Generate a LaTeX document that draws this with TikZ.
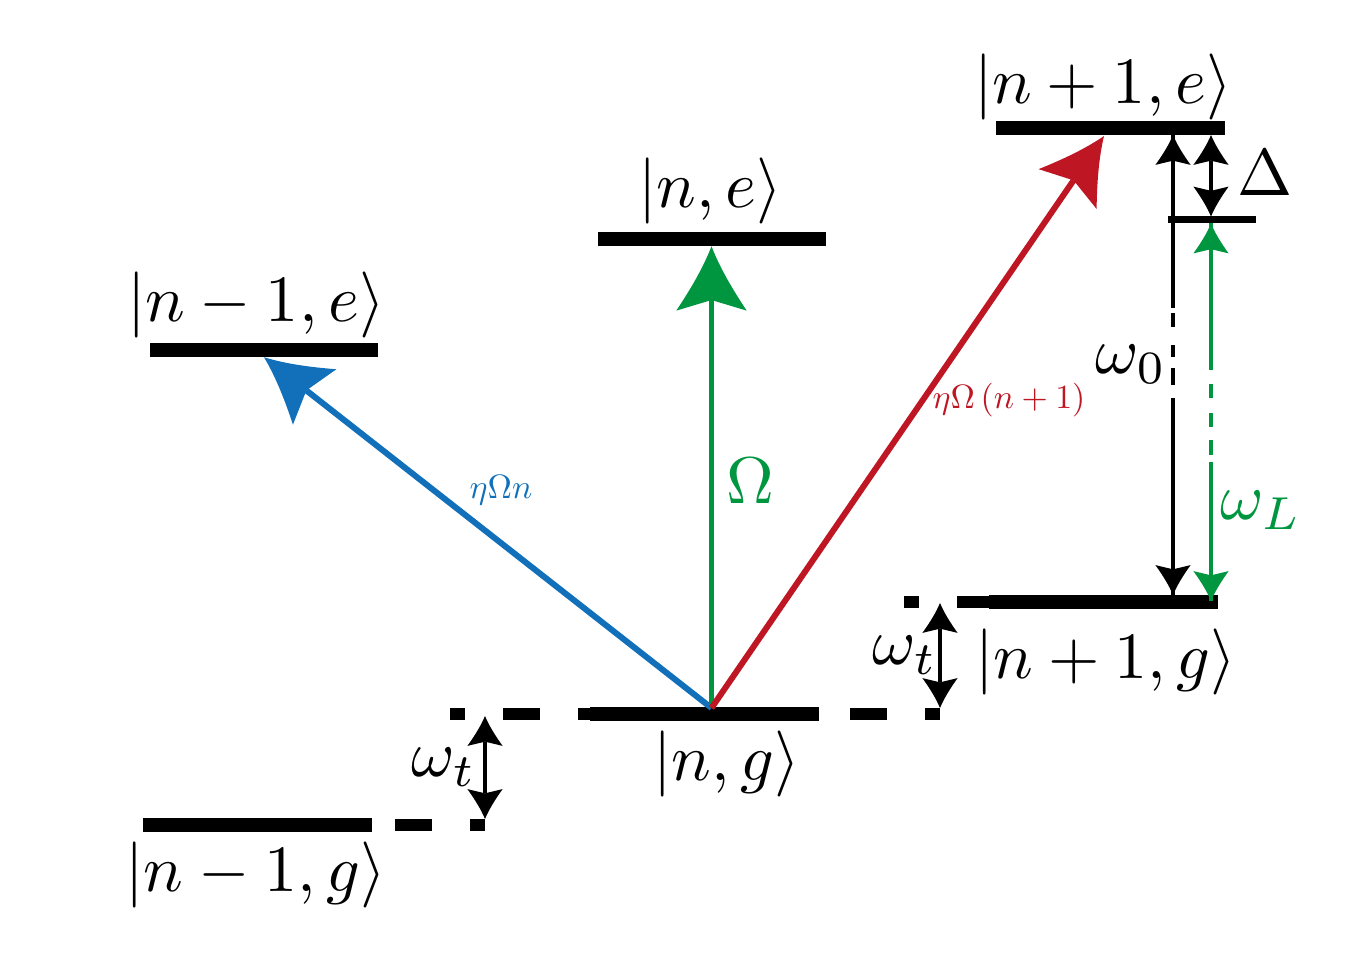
\documentclass[tikz,border=0pt]{standalone}
\usetikzlibrary{arrows.meta,calc}
\definecolor{cblue}{RGB}{17,112,185}
\definecolor{cgreen}{RGB}{0,150,64}
\definecolor{cred}{RGB}{190,22,34}
\pgfdeclarearrow{
  name=CurvedStealth,
  parameters={\the\pgfarrowlength,\the\pgfarrowwidth,\the\pgfarrowinset},
  setup code={
    \pgfarrowssettipend{\pgfarrowlength}
    \pgfarrowssetbackend{0pt}
    \pgfarrowssetlineend{\pgfarrowinset}
    \pgfarrowssavethe\pgfarrowlength
    \pgfarrowssavethe\pgfarrowwidth
    \pgfarrowssavethe\pgfarrowinset
  },
  drawing code={
    \pgfpathmoveto{\pgfqpoint{\pgfarrowlength}{0pt}}
    \pgfpathcurveto{\pgfqpoint{0.66\pgfarrowlength}{0.12\pgfarrowwidth}}{\pgfqpoint{0.33\pgfarrowlength}{0.3\pgfarrowwidth}}{\pgfqpoint{0pt}{0.5\pgfarrowwidth}}
    \pgfpathlineto{\pgfqpoint{\pgfarrowinset}{0pt}}
    \pgfpathlineto{\pgfqpoint{0pt}{-0.5\pgfarrowwidth}}
    \pgfpathcurveto{\pgfqpoint{0.33\pgfarrowlength}{-0.3\pgfarrowwidth}}{\pgfqpoint{0.66\pgfarrowlength}{-0.12\pgfarrowwidth}}{\pgfqpoint{\pgfarrowlength}{0pt}}
    \pgfpathclose
    \pgfusepathqfill
  },
  defaults={length=18pt, width=20pt, inset=3pt}
}
\tikzset{
  lvl/.style={fill=black, inner sep=0pt, outer sep=0pt, minimum width=2.28cm, minimum height=0.145cm},
  lbl/.style={inner sep=0pt, scale=1.88},
  smalllbl/.style={inner sep=0pt, scale=0.96},
  bigarr/.style={line width=1.7pt, >={CurvedStealth[length=18.3pt,width=20pt,inset=3pt]}, ->},
  lvdash/.style={line width=3.4pt, dash pattern=on 10.53pt off 10.81pt, dash phase=6.26pt},
  wline/.style={line width=0.95pt},
  dblarr/.style={wline, >={CurvedStealth[length=8.5pt,width=10pt,inset=1.2pt]}, <->},
  sarr/.style={wline, >={CurvedStealth[length=8.5pt,width=10pt,inset=1.2pt]}, ->},
}
\begin{document}
\begin{tikzpicture}[x=0.01cm,y=-0.01cm]
\useasboundingbox (0,0) rectangle (1366,958);
% energy levels
\node[lvl] (Le1) at (264,350) {};
\node[lvl] (Le2) at (712,239) {};
\node[lvl] (Le3) at (1110.5,128) {};
\node[lvl] (Lg1) at (257.5,825) {};
\node[lvl] (Lg2) at (704.5,714) {};
\node[lvl] (Lg3) at (1103.5,602) {};
\node[lvl, minimum width=0.88cm, minimum height=0.07cm] (Ld) at (1212,220) {};
% dashed continuations
\coordinate (a1) at (485,825);
\coordinate (b1) at (450,714);
\coordinate (b2) at (940,714);
\coordinate (c1) at (904,602);
\draw[lvdash] (a1) -- (Lg1.east);
\draw[lvdash] (b1) -- (Lg2.west);
\draw[lvdash] (b2) -- (Lg2.east);
\draw[lvdash] (c1) -- (Lg3.west);
% transitions
\coordinate (src) at (711.5,708);
\coordinate (rtip) at (1104,136);
\draw[bigarr, cblue] (src) -- (Le1.south);
\draw[bigarr, cgreen] (src) -- (src |- Le2.south);
\draw[bigarr, cred] (src) -- (rtip);
% omega_0 arrow
\coordinate (w0t) at (1173,135);
\coordinate (w0b) at (1173,595);
\draw[wline, dash pattern=on 49.22pt off 1.42pt on 3.98pt off 5.12pt on 3.41pt off 3.13pt on 4.84pt off 3.70pt on 85.36pt] (w0t) -- (w0b);
\draw[sarr] ($(w0t)+(0,45)$) -- (w0t);
\draw[sarr] ($(w0b)+(0,-45)$) -- (w0b);
% Delta arrow
\coordinate (dt) at (1211,135);
\coordinate (db) at (1211,216.5);
\draw[dblarr] (dt) -- (db);
% omega_L arrow
\coordinate (lt) at (1211,223.5);
\coordinate (lb) at (1211,601);
\draw[wline, cgreen, dash pattern=on 41.68pt off 3.98pt on 3.98pt off 4.27pt on 3.98pt off 3.70pt on 4.27pt off 1.99pt on 85.36pt] (lt) -- (lb);
\draw[sarr, cgreen] ($(lt)+(0,45)$) -- (lt);
\draw[sarr, cgreen] ($(lb)+(0,-45)$) -- (lb);
% omega_t arrows
\coordinate (t1a) at (940,603);
\coordinate (t1b) at (940,708);
\coordinate (t2a) at (485,716);
\coordinate (t2b) at (485,819);
\draw[dblarr] (t1a) -- (t1b);
\draw[dblarr] (t2a) -- (t2b);
% labels
\node[lbl] (tLe1) at (256,305) {$|n-1,e\rangle$};
\node[lbl] (tLe2) at (710,191) {$|n,e\rangle$};
\node[lbl] (tLe3) at (1103,86.5) {$|n+1,e\rangle$};
\node[lbl] (tLg3) at (1106,661.5) {$|n+1,g\rangle$};
\node[lbl] (tLg2) at (727,764) {$|n,g\rangle$};
\node[lbl] (tLg1) at (256,875) {$|n-1,g\rangle$};
\node[lbl, text=cgreen] (tOm) at (750,481) {$\Omega$};
\node[smalllbl, text=cblue] (tb) at (501,490) {$\eta\Omega n$};
\node[smalllbl, text=cred] (tr) at (1009,400) {$\eta\Omega\left(n+1\right)$};
\node[lbl] (tw0) at (1131,364) {$\omega_0$};
\node[lbl, text=cgreen] (twL) at (1261,510) {$\omega_L$};
\node[lbl] (twt1) at (905,655) {$\omega_t$};
\node[lbl] (twt2) at (444,767) {$\omega_t$};
\node[lbl] (tD) at (1265,173) {$\Delta$};
\end{tikzpicture}
\end{document}
